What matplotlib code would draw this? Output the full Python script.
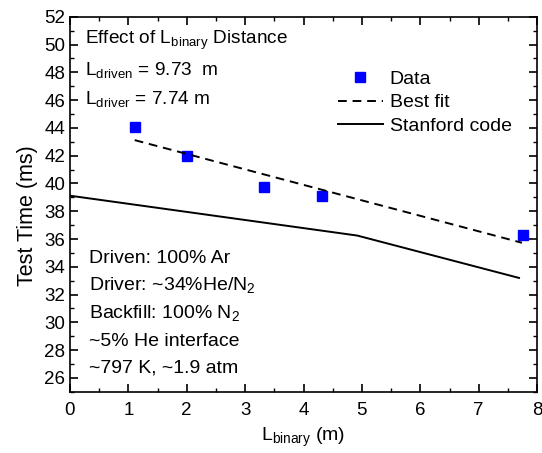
import matplotlib
matplotlib.use("Agg")
import matplotlib.pyplot as plt
from matplotlib.ticker import MultipleLocator

plt.rcParams['font.family'] = ['Liberation Sans', 'DejaVu Sans']
plt.rcParams['mathtext.fontset'] = 'custom'
plt.rcParams['mathtext.rm'] = 'Liberation Sans'

# 데이터
data_x = [1.11, 2.01, 3.32, 4.32, 7.76]
data_y = [44.08, 42.0, 39.72, 39.08, 36.3]

fit_x = [1.11, 7.74]
fit_y = [43.12, 35.73]

stanford_x = [0.0, 4.92, 7.69]
stanford_y = [39.12, 36.25, 33.2]

fig = plt.figure(figsize=(5.42, 4.53), dpi=100)
ax = fig.add_axes([0.129, 0.135, 0.862, 0.828])

ax.plot(data_x, data_y, 's', color='#0000ff', markersize=6.5, label='Data')
ax.plot(fit_x, fit_y, '--', color='black', lw=1.4, dashes=(4.5, 3), label='Best fit')
ax.plot(stanford_x, stanford_y, '-', color='black', lw=1.4, label='Stanford code')

ax.set_xlim(0, 8)
ax.set_ylim(25, 52)
ax.xaxis.set_major_locator(MultipleLocator(1))
ax.xaxis.set_minor_locator(MultipleLocator(0.5))
ax.yaxis.set_major_locator(MultipleLocator(2))
ax.yaxis.set_minor_locator(MultipleLocator(1))
ax.set_yticks(range(26, 53, 2))
ax.tick_params(which='both', direction='in', top=True, right=True, labelsize=13.5)
ax.tick_params(which='major', length=6, width=1.2)
ax.tick_params(axis='x', which='major', pad=7)
ax.tick_params(which='minor', length=3, width=1.0)
for s in ax.spines.values():
    s.set_linewidth(1.2)

ax.set_xlabel(r'L$_{\mathrm{binary}}$ (m)', fontsize=14, labelpad=5)
ax.set_ylabel('Test Time (ms)', fontsize=15.5)
ax.yaxis.set_label_coords(-0.068, 0.47)

# 텍스트
ax.text(0.25, 50.3, r'Effect of L$_{\mathrm{binary}}$ Distance', fontsize=13.7, va='center')
ax.text(0.25, 48.1, r'L$_{\mathrm{driven}}$ = 9.73  m', fontsize=13.7, va='center')
ax.text(0.25, 46.0, r'L$_{\mathrm{driver}}$ = 7.74 m', fontsize=13.7, va='center')

notes = ['Driven: 100% Ar', r'Driver: ~34%He/N$_2$', r'Backfill: 100% N$_2$',
         '~5% He interface', '~797 K, ~1.9 atm']
note_y = [34.6, 32.65, 30.6, 28.6, 26.7]
for t, y in zip(notes, note_y):
    ax.text(0.32, y, t, fontsize=14, va='center')

ax.legend(loc='upper left', bbox_to_anchor=(0.574, 0.857), frameon=False, fontsize=14,
          handlelength=2.3, labelspacing=0.3, handletextpad=0.36,
          borderpad=0, borderaxespad=0)

fig.savefig('out.png', dpi=100)
